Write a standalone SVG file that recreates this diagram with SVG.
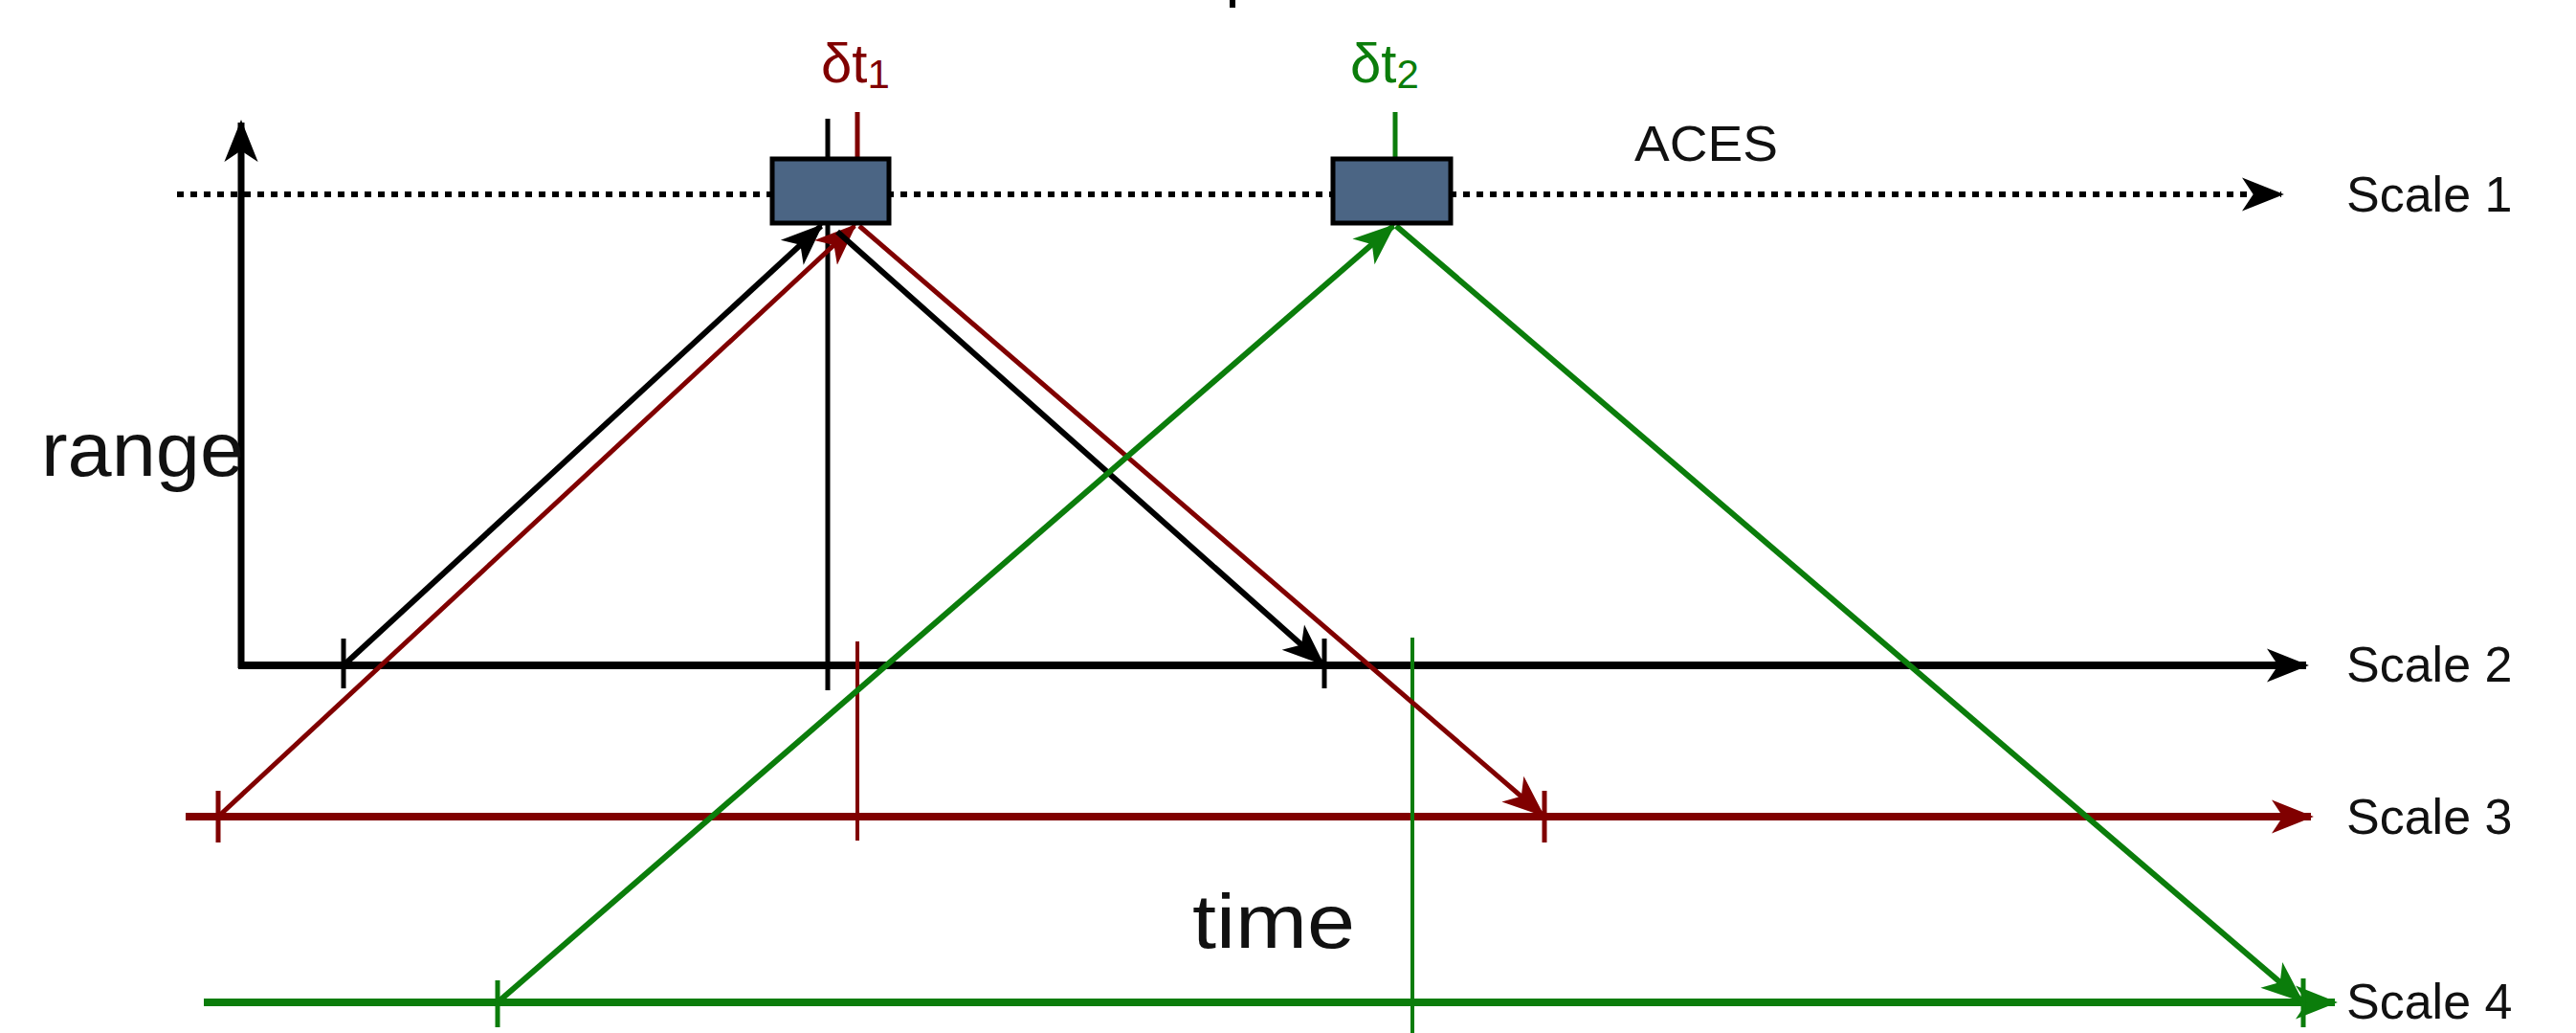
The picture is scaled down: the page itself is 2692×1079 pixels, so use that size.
<svg xmlns="http://www.w3.org/2000/svg" width="2692" height="1079" viewBox="0 0 2692 1079">
<style>
.lbl{font-family:"Liberation Sans","DejaVu Sans",sans-serif;fill:#111}
.big{font-family:"Liberation Sans","DejaVu Sans",sans-serif;font-size:80px;fill:#111}
.k{stroke:#000;fill:none}
.r{stroke:#800000;fill:none}
.g{stroke:#0b7d0b;fill:none}
.box{fill:#4b6584;stroke:#000;stroke-width:5}
</style>
<defs>
<marker id="ak" markerUnits="userSpaceOnUse" markerWidth="44" markerHeight="44" viewBox="0 0 30 24" refX="28" refY="12" orient="auto"><path d="M0,0 L30,12 L0,24 L8,12 z" fill="#000"/></marker>
<marker id="ar" markerUnits="userSpaceOnUse" markerWidth="44" markerHeight="44" viewBox="0 0 30 24" refX="28" refY="12" orient="auto"><path d="M0,0 L30,12 L0,24 L8,12 z" fill="#800000"/></marker>
<marker id="ag" markerUnits="userSpaceOnUse" markerWidth="44" markerHeight="44" viewBox="0 0 30 24" refX="28" refY="12" orient="auto"><path d="M0,0 L30,12 L0,24 L8,12 z" fill="#0b7d0b"/></marker>
</defs>
<rect width="2692" height="1079" fill="#fff"/>
<line x1="1288" y1="0" x2="1288" y2="8" stroke="#000" stroke-width="6"/>
<g id="connectors">
<line class="k" x1="252" y1="698" x2="252" y2="128" stroke-width="7" marker-end="url(#ak)"/>
<line class="k" x1="249" y1="695" x2="2410" y2="695" stroke-width="8" marker-end="url(#ak)"/>
<line class="k" x1="185" y1="203" x2="2384" y2="203" stroke-width="6" stroke-dasharray="7 7" marker-end="url(#ak)"/>
<line class="r" x1="194" y1="853" x2="2415" y2="853" stroke-width="8" marker-end="url(#ar)"/>
<line class="g" x1="213" y1="1047" x2="2440" y2="1047" stroke-width="8" marker-end="url(#ag)"/>
<line class="k" x1="359" y1="667" x2="359" y2="719" stroke-width="5"/>
<line class="k" x1="865" y1="124" x2="865" y2="721" stroke-width="5"/>
<line class="k" x1="1384" y1="667" x2="1384" y2="719" stroke-width="5"/>
<line class="r" x1="896" y1="117" x2="896" y2="168" stroke-width="5"/>
<line class="r" x1="896" y1="670" x2="896" y2="878" stroke-width="4"/>
<line class="r" x1="228" y1="826" x2="228" y2="880" stroke-width="5"/>
<line class="r" x1="1614" y1="826" x2="1614" y2="880" stroke-width="5"/>
<line class="g" x1="1458" y1="117" x2="1458" y2="168" stroke-width="5"/>
<line class="g" x1="1476" y1="666" x2="1476" y2="1079" stroke-width="4"/>
<line class="g" x1="520" y1="1024" x2="520" y2="1073" stroke-width="5"/>
<line class="g" x1="2407" y1="1022" x2="2407" y2="1073" stroke-width="5"/>
<line class="k" x1="359" y1="695" x2="858" y2="236" stroke-width="6" marker-end="url(#ak)"/>
<line class="r" x1="228" y1="853" x2="893" y2="236" stroke-width="5" marker-end="url(#ar)"/>
<line class="k" x1="875" y1="242" x2="1382" y2="693" stroke-width="6" marker-end="url(#ak)"/>
<line class="r" x1="898" y1="236" x2="1612" y2="851" stroke-width="5" marker-end="url(#ar)"/>
<line class="g" x1="520" y1="1047" x2="1456" y2="236" stroke-width="6" marker-end="url(#ag)"/>
<line class="g" x1="1459" y1="236" x2="2405" y2="1045" stroke-width="6" marker-end="url(#ag)"/>
</g>
<g id="node-box1"><rect class="box" x="807" y="166" width="122" height="67"/></g>
<g id="node-box2"><rect class="box" x="1393" y="166" width="123" height="67"/></g>
<g id="labels">
<text class="lbl" x="1708" y="168" font-size="52" textLength="150" lengthAdjust="spacingAndGlyphs">ACES</text>
<text class="lbl" x="2452" y="221" font-size="52">Scale 1</text>
<text class="lbl" x="2452" y="712" font-size="52">Scale 2</text>
<text class="lbl" x="2452" y="871" font-size="52">Scale 3</text>
<text class="lbl" x="2452" y="1064" font-size="52">Scale 4</text>
<text class="big" x="43" y="497" textLength="212" lengthAdjust="spacingAndGlyphs">range</text>
<text class="big" x="1246" y="990" textLength="170" lengthAdjust="spacingAndGlyphs">time</text>
<text class="lbl" x="858" y="86" font-size="58" style="fill:#800000">δt<tspan font-size="42" dy="6">1</tspan></text>
<text class="lbl" x="1411" y="86" font-size="58" style="fill:#0b7d0b">δt<tspan font-size="42" dy="6">2</tspan></text>
</g>
</svg>
